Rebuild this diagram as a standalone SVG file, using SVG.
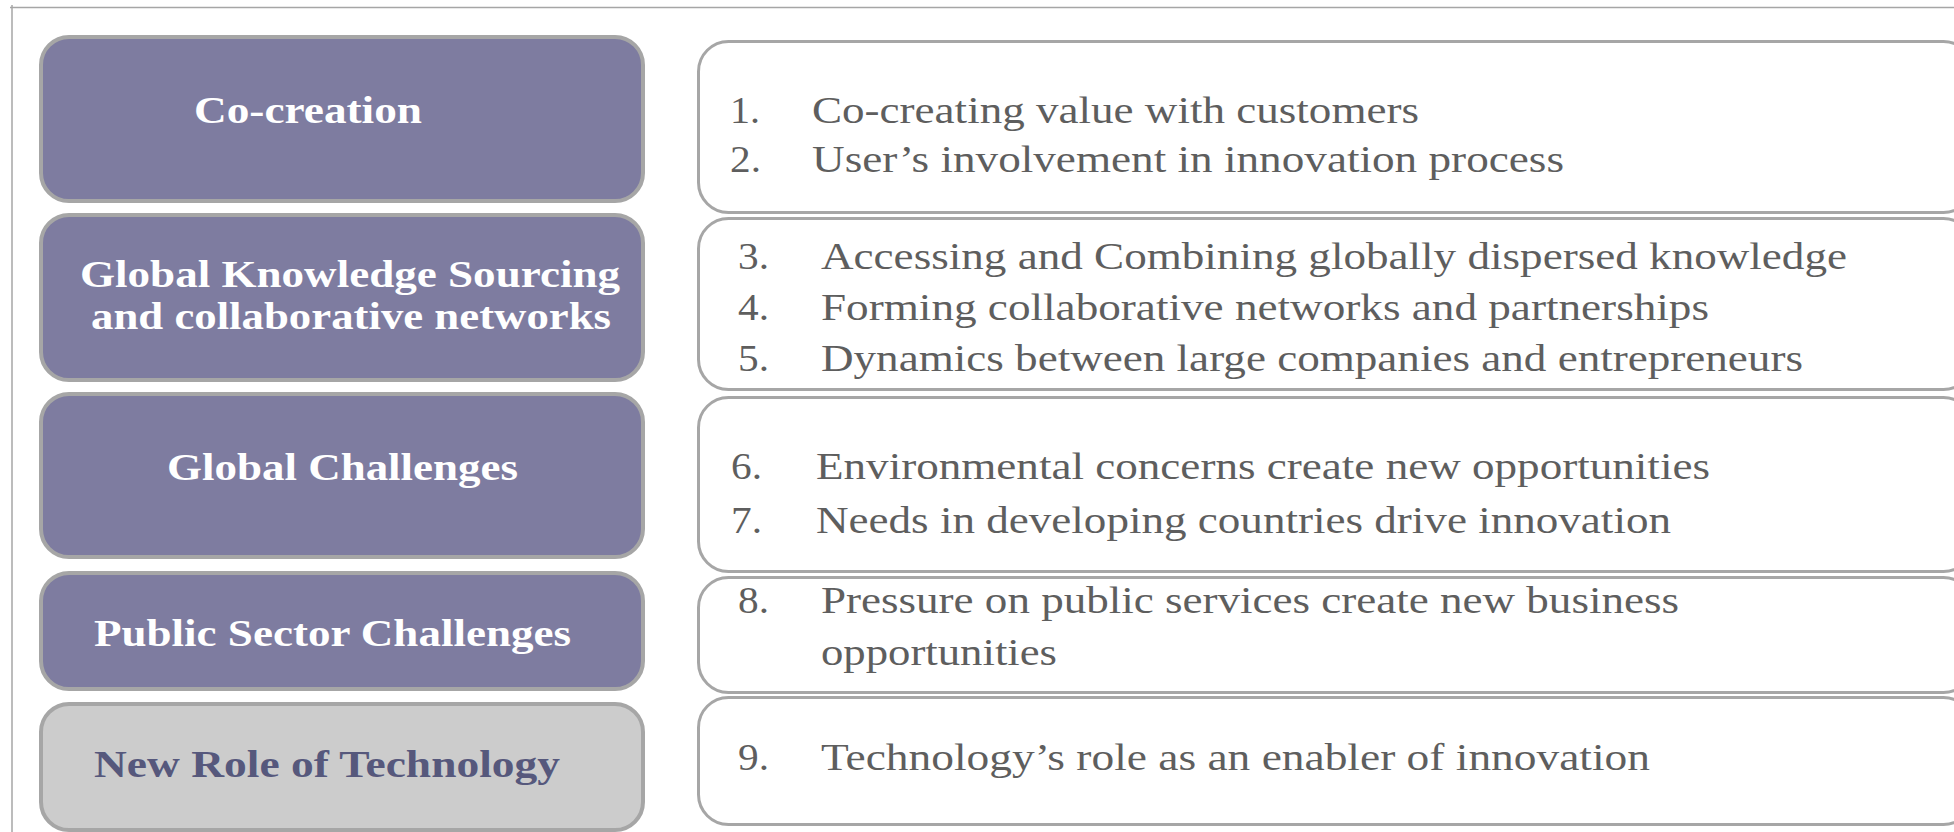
<svg xmlns="http://www.w3.org/2000/svg" width="1954" height="832" viewBox="0 0 1954 832">
<style>
.frame{stroke:#a6a6a6;stroke-width:1.5;fill:none}
.cat{fill:#7e7ca0;stroke:#a6a6a6;stroke-width:4}
.catg{fill:#cccccc;stroke:#a6a6a6;stroke-width:4}
.item{fill:#ffffff;stroke:#a6a6a6;stroke-width:3}
.ct{font-family:"Liberation Serif","Times New Roman",serif;font-weight:bold;font-size:37px;fill:#ffffff}
.ctd{font-family:"Liberation Serif","Times New Roman",serif;font-weight:bold;font-size:37px;fill:#56587c}
.it{font-family:"Liberation Serif","Times New Roman",serif;font-size:37px;fill:#5e5e5e}
</style>
<rect x="0" y="0" width="1954" height="832" fill="#ffffff"/>
<g id="frame">
<line class="frame" x1="10" y1="7.5" x2="1954" y2="7.5"/>
<line class="frame" x1="12" y1="5" x2="12" y2="832"/>
</g>
<g id="connectors"></g>
<g id="cat-cocreation">
<rect class="cat" x="41" y="37" width="602" height="164" rx="28" ry="28"/>
<text class="ct" x="194" y="123" textLength="228" lengthAdjust="spacingAndGlyphs">Co-creation</text>
</g>
<g id="cat-global-knowledge">
<rect class="cat" x="41" y="215" width="602" height="165" rx="28" ry="28"/>
<text class="ct" x="80" y="287" textLength="540" lengthAdjust="spacingAndGlyphs">Global Knowledge Sourcing</text>
<text class="ct" x="91" y="329" textLength="520" lengthAdjust="spacingAndGlyphs">and collaborative networks</text>
</g>
<g id="cat-global-challenges">
<rect class="cat" x="41" y="394" width="602" height="163" rx="28" ry="28"/>
<text class="ct" x="167" y="480" textLength="351" lengthAdjust="spacingAndGlyphs">Global Challenges</text>
</g>
<g id="cat-public-sector">
<rect class="cat" x="41" y="573" width="602" height="116" rx="28" ry="28"/>
<text class="ct" x="94" y="646" textLength="477" lengthAdjust="spacingAndGlyphs">Public Sector Challenges</text>
</g>
<g id="cat-technology">
<rect class="catg" x="41" y="704" width="602" height="126" rx="28" ry="28"/>
<text class="ctd" x="94" y="777" textLength="466" lengthAdjust="spacingAndGlyphs">New Role of Technology</text>
</g>
<g id="items-cocreation">
<rect class="item" x="698.5" y="41.5" width="1275" height="171" rx="30" ry="30"/>
<text class="it" x="730" y="123" textLength="30" lengthAdjust="spacingAndGlyphs">1.</text>
<text class="it" x="812" y="123" textLength="607" lengthAdjust="spacingAndGlyphs">Co-creating value with customers</text>
<text class="it" x="730" y="172" textLength="31" lengthAdjust="spacingAndGlyphs">2.</text>
<text class="it" x="812" y="172" textLength="752" lengthAdjust="spacingAndGlyphs">User’s involvement in innovation process</text>
</g>
<g id="items-global-knowledge">
<rect class="item" x="698.5" y="218.5" width="1275" height="171" rx="30" ry="30"/>
<text class="it" x="738" y="269" textLength="31" lengthAdjust="spacingAndGlyphs">3.</text>
<text class="it" x="821" y="269" textLength="1026" lengthAdjust="spacingAndGlyphs">Accessing and Combining globally dispersed knowledge</text>
<text class="it" x="738" y="320" textLength="31" lengthAdjust="spacingAndGlyphs">4.</text>
<text class="it" x="821" y="320" textLength="888" lengthAdjust="spacingAndGlyphs">Forming collaborative networks and partnerships</text>
<text class="it" x="738" y="371" textLength="31" lengthAdjust="spacingAndGlyphs">5.</text>
<text class="it" x="821" y="371" textLength="982" lengthAdjust="spacingAndGlyphs">Dynamics between large companies and entrepreneurs</text>
</g>
<g id="items-global-challenges">
<rect class="item" x="698.5" y="397.5" width="1275" height="174" rx="30" ry="30"/>
<text class="it" x="731" y="479" textLength="31" lengthAdjust="spacingAndGlyphs">6.</text>
<text class="it" x="816" y="479" textLength="894" lengthAdjust="spacingAndGlyphs">Environmental concerns create new opportunities</text>
<text class="it" x="731" y="533" textLength="31" lengthAdjust="spacingAndGlyphs">7.</text>
<text class="it" x="816" y="533" textLength="855" lengthAdjust="spacingAndGlyphs">Needs in developing countries drive innovation</text>
</g>
<g id="items-public-sector">
<rect class="item" x="698.5" y="577.5" width="1275" height="115" rx="30" ry="30"/>
<text class="it" x="738" y="613" textLength="31" lengthAdjust="spacingAndGlyphs">8.</text>
<text class="it" x="821" y="613" textLength="858" lengthAdjust="spacingAndGlyphs">Pressure on public services create new business</text>
<text class="it" x="821" y="665" textLength="236" lengthAdjust="spacingAndGlyphs">opportunities</text>
</g>
<g id="items-technology">
<rect class="item" x="698.5" y="697.5" width="1275" height="127" rx="30" ry="30"/>
<text class="it" x="738" y="770" textLength="31" lengthAdjust="spacingAndGlyphs">9.</text>
<text class="it" x="821" y="770" textLength="829" lengthAdjust="spacingAndGlyphs">Technology’s role as an enabler of innovation</text>
</g>
</svg>
